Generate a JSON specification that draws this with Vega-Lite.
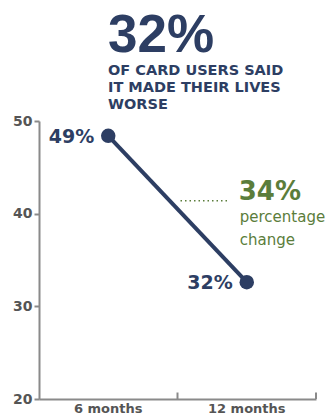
{
  "$schema": "https://vega.github.io/schema/vega-lite/v6.json",
  "width": 277,
  "height": 278,
  "autosize": {"type": "none"},
  "padding": {"left": 39, "top": 121, "right": 15, "bottom": 17},
  "background": "white",
  "title": {
    "text": "32%",
    "subtitle": ["OF CARD USERS SAID", "IT MADE THEIR LIVES", "WORSE"],
    "anchor": "start",
    "frame": "group",
    "dx": 69,
    "offset": 3,
    "font": "Liberation Sans",
    "fontSize": 53,
    "fontWeight": "bold",
    "color": "#2d3e63",
    "subtitleFont": "DejaVu Sans",
    "subtitleFontSize": 14.5,
    "subtitleFontWeight": "bold",
    "subtitleColor": "#2d3e63",
    "subtitleLineHeight": 17,
    "subtitlePadding": 1
  },
  "config": {
    "view": {"stroke": null},
    "axis": {
      "grid": false,
      "domainColor": "#8a8a8a",
      "domainWidth": 2,
      "tickColor": "#8a8a8a",
      "tickWidth": 2,
      "labelFont": "DejaVu Sans",
      "labelFontWeight": "bold",
      "labelColor": "#555555",
      "title": null
    }
  },
  "datasets": {
    "series": [
      {"period": "6 months", "value": 48.4, "label": "49%"},
      {"period": "12 months", "value": 32.6, "label": "32%"}
    ],
    "note": [
      {"period": "12 months", "y": 42.3, "text": "34%", "kind": "big"},
      {"period": "12 months", "y": 39.6, "text": "percentage", "kind": "small"},
      {"period": "12 months", "y": 37.2, "text": "change", "kind": "small"}
    ],
    "dots": [
      {"period": "12 months", "y": 41.4}
    ],
    "xticks": [
      {"period": "12 months", "y0": 20, "y1": 20.7}
    ]
  },
  "encoding": {
    "x": {
      "field": "period",
      "type": "nominal",
      "sort": ["6 months", "12 months"],
      "scale": {"paddingInner": 0, "paddingOuter": 0},
      "axis": {"labelAngle": 0, "labelFontSize": 13, "ticks": false, "labelPadding": 3}
    }
  },
  "layer": [
    {
      "data": {"name": "series"},
      "mark": {"type": "line", "color": "#2d3e63", "strokeWidth": 4},
      "encoding": {
        "y": {
          "field": "value",
          "type": "quantitative",
          "scale": {"domain": [20, 50], "nice": false, "zero": false},
          "axis": {"values": [20, 30, 40, 50], "labelFontSize": 14, "tickSize": 5, "labelPadding": 2}
        }
      }
    },
    {
      "data": {"name": "xticks"},
      "mark": {"type": "rule", "color": "#8a8a8a", "strokeWidth": 2},
      "encoding": {
        "x": {"field": "period", "type": "nominal", "bandPosition": 0},
        "y": {"field": "y0", "type": "quantitative"},
        "y2": {"field": "y1"}
      }
    },
    {
      "data": {"name": "xticks"},
      "mark": {"type": "rule", "color": "#8a8a8a", "strokeWidth": 2},
      "encoding": {
        "x": {"field": "period", "type": "nominal", "bandPosition": 1},
        "y": {"field": "y0", "type": "quantitative"},
        "y2": {"field": "y1"}
      }
    },
    {
      "data": {"name": "series"},
      "mark": {"type": "point", "filled": true, "opacity": 1, "color": "#2d3e63", "size": 210},
      "encoding": {"y": {"field": "value", "type": "quantitative"}}
    },
    {
      "data": {"name": "series"},
      "mark": {"type": "text", "align": "right", "baseline": "middle", "dx": -14, "dy": 1, "font": "DejaVu Sans", "fontWeight": "bold", "fontSize": 19, "color": "#2d3e63"},
      "encoding": {"y": {"field": "value", "type": "quantitative"}, "text": {"field": "label"}}
    },
    {
      "data": {"name": "dots"},
      "mark": {"type": "rule", "color": "#5b7d3b", "strokeWidth": 1.5, "strokeDash": [1.5, 3], "xOffset": 3, "x2Offset": -19},
      "encoding": {
        "x": {"field": "period", "type": "nominal", "bandPosition": 0},
        "x2": {"field": "period"},
        "y": {"field": "y", "type": "quantitative"}
      }
    },
    {
      "data": {"name": "note"},
      "transform": [{"filter": "datum.kind === 'big'"}],
      "mark": {"type": "text", "align": "left", "baseline": "middle", "dx": -8, "font": "DejaVu Sans", "fontWeight": "bold", "fontSize": 26, "color": "#5b7d3b"},
      "encoding": {"y": {"field": "y", "type": "quantitative"}, "text": {"field": "text"}}
    },
    {
      "data": {"name": "note"},
      "transform": [{"filter": "datum.kind === 'small'"}],
      "mark": {"type": "text", "align": "left", "baseline": "middle", "dx": -7, "font": "DejaVu Sans", "fontSize": 15, "color": "#5b7d3b"},
      "encoding": {"y": {"field": "y", "type": "quantitative"}, "text": {"field": "text"}}
    }
  ]
}
